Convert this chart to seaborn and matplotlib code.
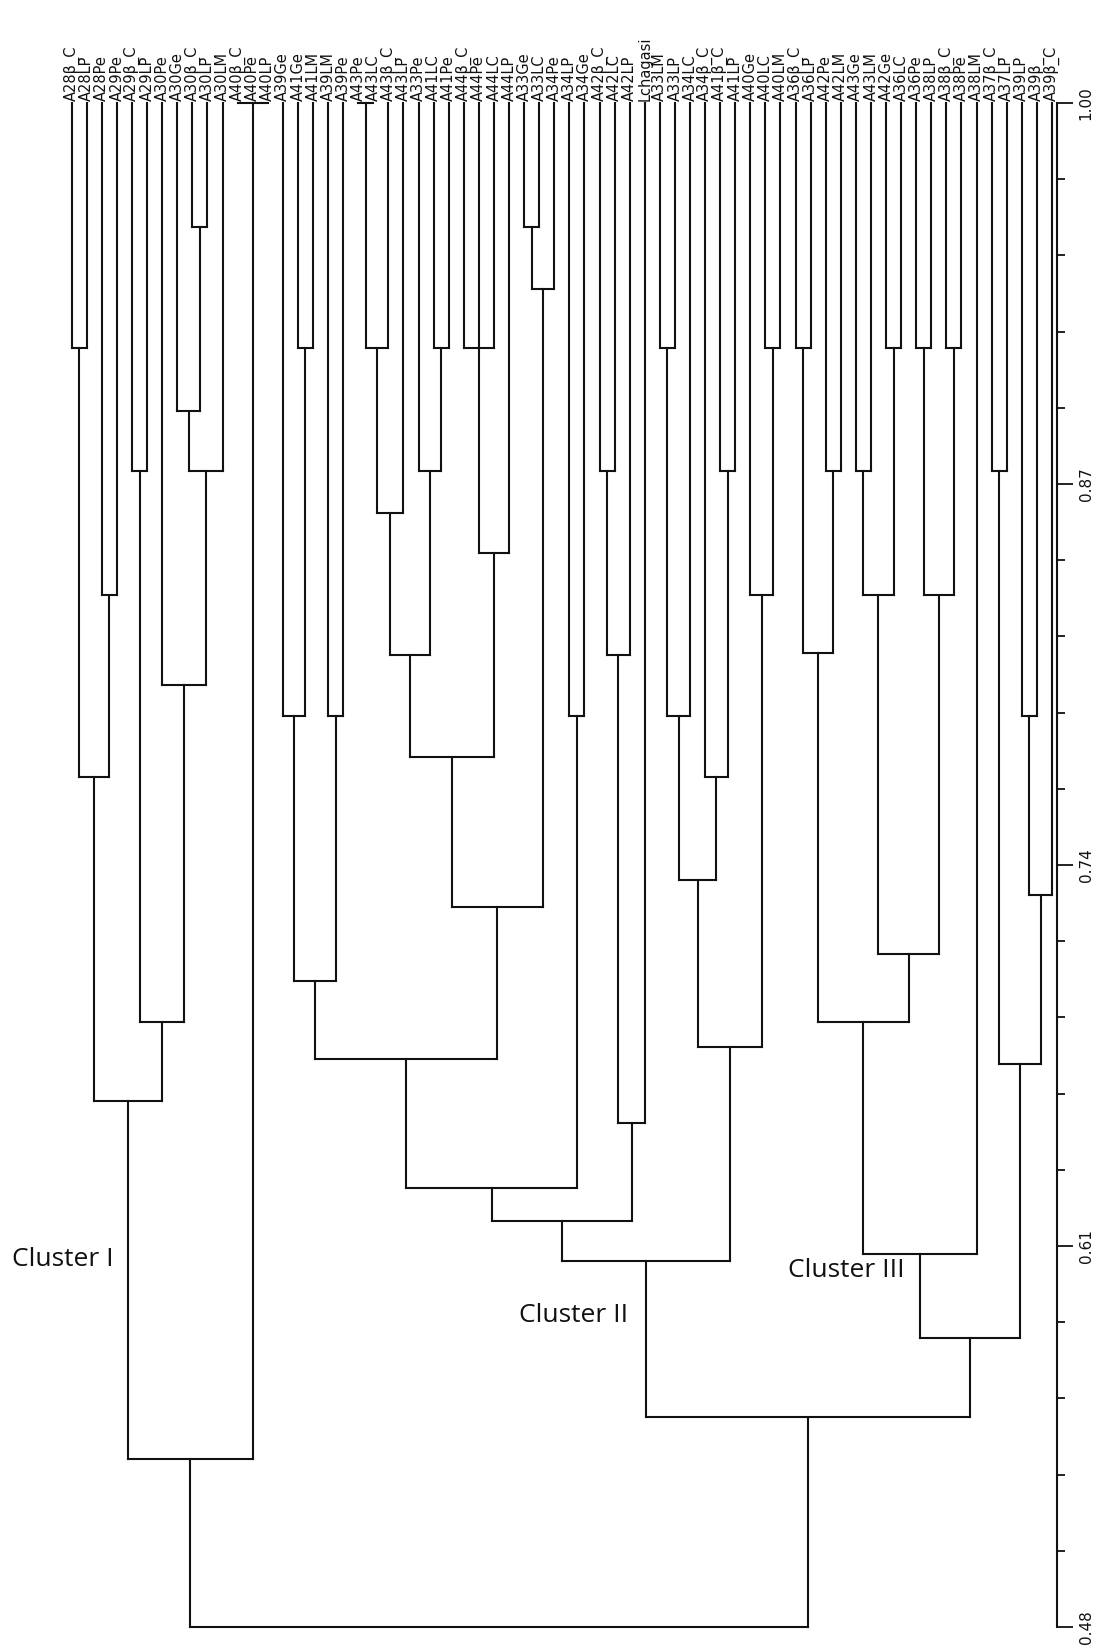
import numpy as np
import pandas as pd
import matplotlib
matplotlib.use("Agg")
import matplotlib.pyplot as plt
import seaborn as sns

# ---------------- data ----------------
leaf_labels = [
    "A28β_C", "A28LP", "A28Pe", "A29Pe", "A29β_C", "A29LP", "A30Pe", "A30Ge",
    "A30β_C", "A30LP", "A30LM", "A40β_C", "A40Pe", "A40LP",
    "A39Ge", "A41Ge", "A41LM", "A39LM", "A39Pe", "A43Pe", "A43LC", "A43β_C",
    "A43LP", "A33Pe", "A41LC", "A41Pe", "A44β_C", "A44Pe", "A44LC", "A44LP",
    "A33Ge", "A33LC", "A34Pe", "A34LP", "A34Ge", "A42β_C", "A42LC", "A42LP",
    "Lchagasi",
    "A33LM", "A33LP", "A34LC", "A34β_C", "A41β_C", "A41LP", "A40Ge", "A40LC",
    "A40LM", "A36β_C", "A36LP", "A42Pe", "A42LM", "A43Ge", "A43LM", "A42Ge",
    "A36LC", "A36Pe", "A38LP", "A38β_C", "A38Pe", "A38LM", "A37β_C", "A37LP",
    "A39LP", "A39β_", "A39β_C",
]

merge_names = [
    # cluster I
    "m01", "m23", "m0_3", "m45", "m89", "m7_9", "m7_10", "m6_10", "m4_10",
    "m0_10", "t11", "cI",
    # cluster II
    "a", "b", "c", "d", "t19", "e", "f", "g", "h", "i", "j", "k", "l", "m",
    "n", "o", "p", "q", "r", "s", "t", "u", "v", "w", "x", "y", "z", "aa",
    "bb", "cc", "dd", "cII",
    # cluster III
    "ee", "ff", "gg", "hh", "ii", "jj", "kk", "ll", "mm", "nn", "oo", "pp",
    "qq", "rr", "ss", "tt", "cIII",
    "cII_III", "root",
]
merge_children = [
    (0, 1), (2, 3), ("m01", "m23"), (4, 5), (8, 9), (7, "m89"),
    ("m7_9", 10), (6, "m7_10"), ("m45", "m6_10"), ("m0_3", "m4_10"),
    (11, 12, 13), ("m0_10", "t11"),
    (15, 16), (14, "a"), (17, 18), ("b", "c"), (19, 20), ("t19", 21),
    ("e", 22), (24, 25), (23, "g"), ("f", "h"), (26, 27, 28), ("j", 29),
    ("i", "k"), (30, 31), ("m", 32), ("l", "n"), ("d", "o"), (33, 34),
    ("p", "q"), (35, 36), ("s", 37), ("t", 38), ("r", "u"), (39, 40),
    ("w", 41), (43, 44), (42, "y"), ("x", "z"), (46, 47), (45, "bb"),
    ("aa", "cc"), ("v", "dd"),
    (48, 49), (50, 51), ("ee", "ff"), (52, 53), (54, 55), ("hh", "ii"),
    (56, 57), (58, 59), ("kk", "ll"), ("jj", "mm"), ("gg", "nn"),
    ("oo", 60), (61, 62), (63, 64), ("rr", 65), ("qq", "ss"), ("pp", "tt"),
    ("cII", "cIII"), ("cI", "cII_III"),
]
merge_similarity = [
    0.9164, 0.832, 0.770, 0.8744, 0.9577, 0.895, 0.8744, 0.8015, 0.6864,
    0.6595, 1.0, 0.5372,
    0.9164, 0.7908, 0.7908, 0.7004, 1.0, 0.9164, 0.8601, 0.9164, 0.8744,
    0.8118, 0.9164, 0.8466, 0.777, 0.9577, 0.9364, 0.7255, 0.6737, 0.7908,
    0.6299, 0.8744, 0.8118, 0.6519, 0.6186, 0.9164, 0.7908, 0.8744, 0.770,
    0.735, 0.9164, 0.832, 0.678, 0.6049,
    0.9164, 0.8744, 0.8123, 0.8744, 0.9164, 0.832, 0.9164, 0.9164, 0.832,
    0.7098, 0.6864, 0.6073, 0.8744, 0.7907, 0.7296, 0.6721, 0.5786,
    0.5516, 0.48,
]
major_ticks = [1.00, 0.87, 0.74, 0.61, 0.48]
cluster_names = ["Cluster I", "Cluster II", "Cluster III"]

# ---------------- style ----------------
sns.set_theme(style="white")
plt.rcParams["font.family"] = ["DejaVu Sans"]

W, H = 1104, 1651
fig = plt.figure(figsize=(W / 100, H / 100), dpi=100)
fig.patch.set_facecolor("white")

x0_px, dx_px = 71.7, 15.08          # first leaf position and leaf spacing (px)
left_px, right_px = 20, 1057
top_px, bot_px = 103, 1627
ax = fig.add_axes([left_px / W, 1 - bot_px / H,
                   (right_px - left_px) / W, (bot_px - top_px) / H])

# ---------------- dendrogram layout ----------------
pos = {i: (float(i), 1.0) for i in range(len(leaf_labels))}
rows = []
seg = 0
for name, ch, s in zip(merge_names, merge_children, merge_similarity):
    xs = [pos[c][0] for c in ch]
    for c in ch:
        cx, cy = pos[c]
        rows += [(seg, cx, cy), (seg, cx, s)]
        seg += 1
    rows += [(seg, min(xs), s), (seg, max(xs), s)]
    seg += 1
    pos[name] = ((min(xs) + max(xs)) / 2, s)
df = pd.DataFrame(rows, columns=["seg", "x", "y"])

sns.lineplot(data=df, x="x", y="y", units="seg", estimator=None, sort=False,
             color="#111111", lw=1.5, ax=ax, legend=False)
for ln in ax.lines:
    ln.set_clip_on(False)
    ln.set_solid_capstyle("projecting")

ax.set_xlim((left_px - x0_px) / dx_px, (right_px - x0_px) / dx_px)
ax.set_ylim(0.48, 1.0)

# leaf labels
for i, lab in enumerate(leaf_labels):
    ax.annotate(lab, xy=(i, 1.0), xytext=(0, 1.5), textcoords="offset points",
                rotation=90, ha="center", va="bottom", fontsize=10.5,
                color="#111111", annotation_clip=False)

# axis on the right
for sp in ["top", "left", "bottom"]:
    ax.spines[sp].set_visible(False)
ax.spines["right"].set_bounds(0.48, 1.0)
ax.spines["right"].set_color("#111111")
ax.spines["right"].set_linewidth(1.5)
ax.yaxis.tick_right()
ax.set_yticks(major_ticks)
ax.set_yticklabels([f"{t:.2f}" for t in major_ticks], rotation=90, va="center")
ax.set_yticks(np.linspace(0.48, 1.0, 21), minor=True)
ax.tick_params(axis="y", which="major", direction="out", length=11.5, width=1.3,
               pad=4, labelsize=11, right=True, left=False, colors="#111111")
ax.tick_params(axis="y", which="minor", direction="out", length=5.8, width=1.3,
               right=True, left=False, colors="#111111")
ax.set_xticks([])
ax.set_xlabel("")
ax.set_ylabel("")

# cluster annotations
cl_px = [(63, 1259), (574, 1315), (846, 1270)]
for name, (px, py) in zip(cluster_names, cl_px):
    fig.text(px / W, 1 - py / H, name, ha="center", va="center",
             fontsize=19, family=["Open Sans", "DejaVu Sans"], color="#111111")

fig.savefig("out.png", dpi=100, facecolor="white")
